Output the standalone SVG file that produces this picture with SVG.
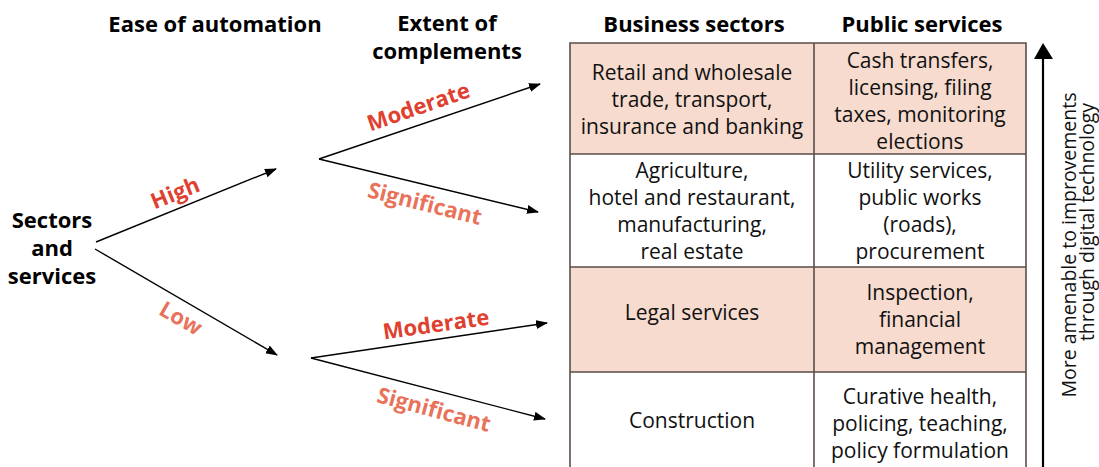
<svg xmlns="http://www.w3.org/2000/svg" width="1099" height="467" viewBox="0 0 1099 467">
<defs>
<marker id="ah" markerWidth="12" markerHeight="9" refX="11" refY="4.5" orient="auto" markerUnits="userSpaceOnUse">
<path d="M0,0 L12,4.5 L0,9 Z" fill="#000"/>
</marker>
<style>
.h{font-family:"Open Sans","Liberation Sans",sans-serif;font-weight:bold;font-size:22px;fill:#000;text-anchor:middle}
.c{font-family:"Open Sans","Liberation Sans",sans-serif;font-size:21px;fill:#111;text-anchor:middle}
.v{font-family:"Open Sans","Liberation Sans",sans-serif;font-size:19.5px;fill:#111;text-anchor:middle}
.red{font-family:"Open Sans","Liberation Sans",sans-serif;font-weight:bold;font-size:22px;fill:#E0402F;text-anchor:middle}
.sal{font-family:"Open Sans","Liberation Sans",sans-serif;font-weight:bold;font-size:22px;fill:#E8725A;text-anchor:middle}
.con{stroke:#000;stroke-width:1.4;fill:none;marker-end:url(#ah)}
.fill{fill:#F6DBCE}
.grid{stroke:#5a4e4a;stroke-width:1.6;fill:none}
</style>
</defs>
<rect width="1099" height="467" fill="#fff"/>

<g id="headers">
<text class="h" x="215" y="32">Ease of automation</text>
<text class="h" x="447" y="31">Extent of</text>
<text class="h" x="447" y="59">complements</text>
<text class="h" x="694" y="32">Business sectors</text>
<text class="h" x="922" y="32">Public services</text>
</g>

<g id="root">
<text class="h" x="52" y="228">Sectors</text>
<text class="h" x="52" y="256">and</text>
<text class="h" x="52" y="284">services</text>
</g>

<g id="connectors">
<line class="con" x1="96" y1="242" x2="276" y2="169"/>
<line class="con" x1="95" y1="249" x2="277" y2="355"/>
<line class="con" x1="319" y1="159" x2="540" y2="84"/>
<line class="con" x1="319" y1="159" x2="538" y2="212"/>
<line class="con" x1="311" y1="358" x2="547" y2="323"/>
<line class="con" x1="311" y1="358" x2="545" y2="419"/>
</g>

<g id="labels">
<text class="red" transform="translate(178,200) rotate(-22)">High</text>
<text class="sal" transform="translate(177,325) rotate(30)">Low</text>
<text class="red" transform="translate(421,114) rotate(-19)">Moderate</text>
<text class="sal" transform="translate(423,211) rotate(14)">Significant</text>
<text class="red" transform="translate(437,332) rotate(-8)">Moderate</text>
<text class="sal" transform="translate(432,417) rotate(15)">Significant</text>
</g>

<g id="table">
<rect class="fill" x="570" y="43" width="456" height="111"/>
<rect class="fill" x="570" y="267" width="456" height="105"/>
<path class="grid" d="M570,480 V43 H1026 V480 M814,43 V480 M570,154 H1026 M570,267 H1026 M570,372 H1026"/>
</g>

<g id="row1">
<text class="c" x="692" y="80">Retail and wholesale</text>
<text class="c" x="692" y="107">trade, transport,</text>
<text class="c" x="692" y="134">insurance and banking</text>
<text class="c" x="920" y="68">Cash transfers,</text>
<text class="c" x="920" y="95">licensing, filing</text>
<text class="c" x="920" y="122">taxes, monitoring</text>
<text class="c" x="920" y="149">elections</text>
</g>
<g id="row2">
<text class="c" x="692" y="178">Agriculture,</text>
<text class="c" x="692" y="205">hotel and restaurant,</text>
<text class="c" x="692" y="232">manufacturing,</text>
<text class="c" x="692" y="259">real estate</text>
<text class="c" x="920" y="178">Utility services,</text>
<text class="c" x="920" y="205">public works</text>
<text class="c" x="920" y="232">(roads),</text>
<text class="c" x="920" y="259">procurement</text>
</g>
<g id="row3">
<text class="c" x="692" y="320">Legal services</text>
<text class="c" x="920" y="300">Inspection,</text>
<text class="c" x="920" y="327">financial</text>
<text class="c" x="920" y="354">management</text>
</g>
<g id="row4">
<text class="c" x="692" y="428">Construction</text>
<text class="c" x="920" y="404">Curative health,</text>
<text class="c" x="920" y="431">policing, teaching,</text>
<text class="c" x="920" y="458">policy formulation</text>
</g>

<g id="axis">
<line x1="1043" y1="57" x2="1043" y2="467" stroke="#000" stroke-width="2.2"/>
<path d="M1034,59 L1043,43 L1053,59 Z" fill="#000"/>
<text class="v" transform="translate(1076,245) rotate(-90)">More amenable to improvements</text>
<text class="v" transform="translate(1094,222) rotate(-90)">through digital technology</text>
</g>
</svg>
